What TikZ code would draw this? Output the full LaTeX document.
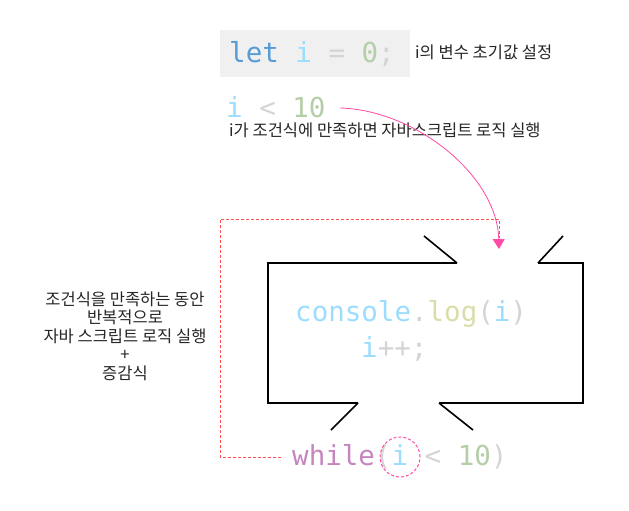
\documentclass[tikz,border=0pt]{standalone}
\usepackage{fontspec}
\setmainfont{Noto Sans CJK KR}
\setmonofont{DejaVu Sans Mono}
\usetikzlibrary{arrows.meta}
\definecolor{kw}{HTML}{569CD6}
\definecolor{var}{HTML}{9CDCFE}
\definecolor{op}{HTML}{D4D4D4}
\definecolor{num}{HTML}{B5CEA8}
\definecolor{fn}{HTML}{DCDCAA}
\definecolor{ctl}{HTML}{C586C0}
\definecolor{pinkc}{HTML}{FF4AA5}
\definecolor{redd}{HTML}{FF4D4D}
\definecolor{boxg}{HTML}{F0F0F0}
\tikzset{
  code/.style={inner sep=0pt, anchor=base west, font=\ttfamily\fontsize{27.5}{32}\selectfont},
  note/.style={inner sep=0pt, font=\fontsize{16.5}{18.5}\selectfont, text=black!85},
  loopline/.style={line width=1.6pt, black},
  flowarrow/.style={pinkc, line width=0.8pt, -{Triangle[width=12pt,length=10pt]}},
  backline/.style={redd, line width=1pt, dash pattern=on 3pt off 2pt},
  ring/.style={draw=pinkc, line width=1pt, dash pattern=on 3pt off 2pt, circle, minimum size=40pt, inner sep=0pt}
}
\begin{document}
\begin{tikzpicture}[x=1pt,y=-1pt]
\useasboundingbox (0,0) rectangle (629,511);
% init box
\fill[boxg] (220,30) rectangle (410,77);
\node[code] (init) at (229,63) {\textcolor{kw}{let} \textcolor{var}{i} \textcolor{op}{=} \textcolor{num}{0}\textcolor{op}{;}};
\node[note, anchor=west] (initnote) at (415,52) {i의 변수 초기값 설정};
% condition
\node[code] (cond) at (226,117) {\textcolor{var}{i} \textcolor{op}{<} \textcolor{num}{10}};
\node[note, anchor=west] (condnote) at (229,130) {i가 조건식에 만족하면 자바스크립트 로직 실행};
% loop body frame
\draw[loopline] (457,263) -- (268,263) -- (268,403) -- (358,403);
\draw[loopline] (538,263) -- (583,263) -- (583,403) -- (439,403);
\draw[loopline] (457,263) -- (424,236);
\draw[loopline] (538,263) -- (563,236);
\draw[loopline] (358,403) -- (331,430);
\draw[loopline] (439,403) -- (473,430);
% body code
\node[code] (log) at (295,321) {\textcolor{var}{console}\textcolor{op}{.}\textcolor{fn}{log}\textcolor{op}{(}\textcolor{var}{i}\textcolor{op}{)}};
\node[code] (inc) at (361,357) {\textcolor{var}{i}\textcolor{op}{++;}};
% while
\node[code] (wh) at (292,465) {\textcolor{ctl}{while}\textcolor{op}{(}\textcolor{var}{i} \textcolor{op}{<} \textcolor{num}{10}\textcolor{op}{)}};
\node[ring] (iring) at (400,457) {};
% left note
\node[note, align=center] (loopnote) at (125,336) {조건식을 만족하는 동안\\반복적으로\\자바 스크립트 로직 실행\\+\\증감식};
% connectors
\coordinate (cstart) at (340,108);
\coordinate (entry) at (499,249);
\coordinate (wstart) at (281,457);
\coordinate (c1) at (220,457);
\coordinate (c2) at (220,219);
\coordinate (c3) at (499,219);
\coordinate (c4) at (499,238);
\draw[backline] (wstart) -- (c1) -- (c2) -- (c3) -- (c4);
\draw[flowarrow] (cstart) .. controls (415,110) and (497,175) .. (entry);
\end{tikzpicture}
\end{document}
